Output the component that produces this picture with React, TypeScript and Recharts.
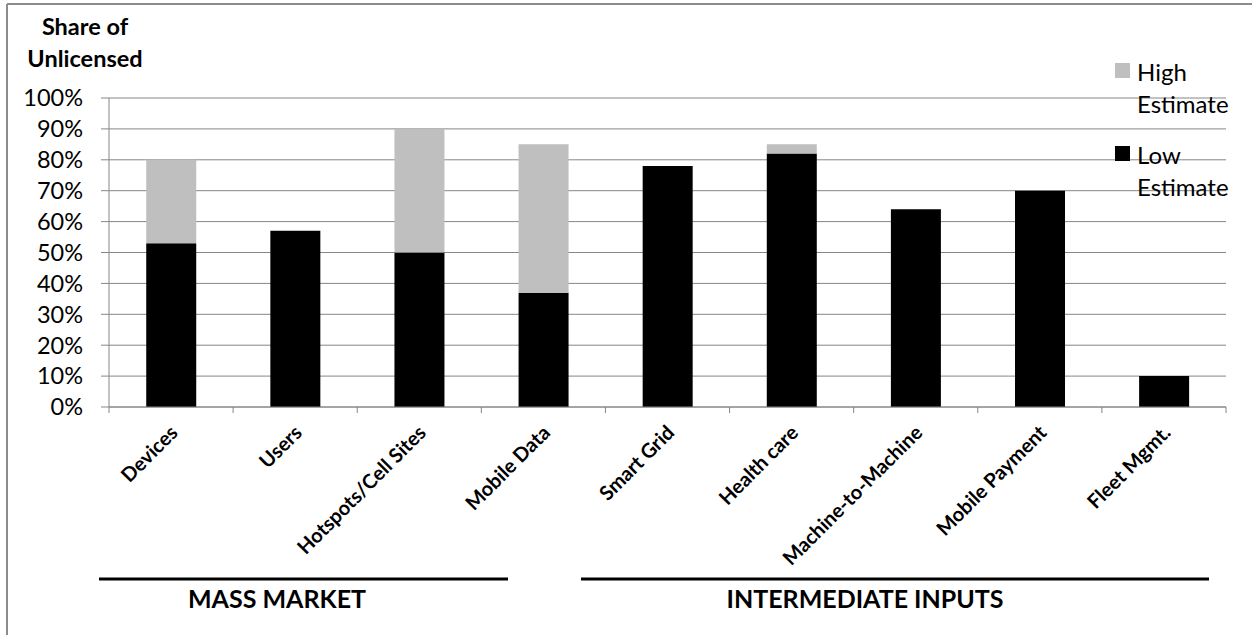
import { BarChart, Bar, XAxis, YAxis, CartesianGrid, Legend } from 'recharts';

const categories = [
  'Devices',
  'Users',
  'Hotspots/Cell Sites',
  'Mobile Data',
  'Smart Grid',
  'Health care',
  'Machine-to-Machine',
  'Mobile Payment',
  'Fleet Mgmt.',
];
// low estimate share (%) per category
const lowEstimate = [53, 57, 50, 37, 78, 82, 64, 70, 10];
// high estimate share (%), null where only one estimate exists
const highEstimate = [80, null, 90, 85, null, 85, null, null, null];
const yTicks = [0, 10, 20, 30, 40, 50, 60, 70, 80, 90, 100];
const groupLabels = ['MASS MARKET', 'INTERMEDIATE INPUTS'];

const data = categories.map((name, i) => ({
  name,
  low: lowEstimate[i],
  high: highEstimate[i] == null ? 0 : (highEstimate[i] as number) - lowEstimate[i],
}));

const FONT = 'Lato, "Open Sans", sans-serif';
const GRID = '#868686';
const W = 1252;
const H = 635;

const CategoryTick = (props: any) => {
  const { x, y, payload, index, visibleTicksCount } = props;
  const half = payload.offset ?? (1226 - 109) / categories.length / 2;
  const last = index === (visibleTicksCount ?? categories.length) - 1;
  return (
    <g>
      <line x1={x - half} x2={x - half} y1={y} y2={y + 6} stroke={GRID} />
      {last && <line x1={x + half} x2={x + half} y1={y} y2={y + 6} stroke={GRID} />}
      <text
        transform={`translate(${x + 8},${y + 27}) rotate(-45)`}
        textAnchor="end"
        fontSize={20}
        fontWeight="bold"
        fontFamily={FONT}
        fill="#000"
      >
        {payload.value}
      </text>
    </g>
  );
};

const LegendBox = () => {
  const items = [
    { color: '#BFBFBF', lines: ['High', 'Estimate'] },
    { color: '#000000', lines: ['Low', 'Estimate'] },
  ];
  return (
    <div style={{ fontFamily: FONT, fontSize: 24, color: '#000' }}>
      {items.map((it, i) => (
        <div key={i} style={{ position: 'relative', height: 83 }}>
          <div style={{ position: 'absolute', left: 0, top: 5, width: 15, height: 15, background: it.color }} />
          <div style={{ position: 'absolute', left: 22, top: -2, lineHeight: '32px' }}>
            {it.lines.map((l) => (
              <div key={l}>{l}</div>
            ))}
          </div>
        </div>
      ))}
    </div>
  );
};

export default function App() {
  return (
    <div style={{ position: 'absolute', left: 0, top: 0, width: W, height: H, background: '#fff', fontFamily: FONT, overflow: 'hidden' }}>
      <BarChart
        width={W}
        height={H}
        data={data}
        margin={{ top: 98, right: 26, left: 0, bottom: 0 }}
        barCategoryGap="30%"
      >
        <CartesianGrid vertical={false} stroke={GRID} />
        <XAxis
          dataKey="name"
          interval={0}
          height={228}
          tickSize={0}
          tickMargin={0}
          tickLine={false}
          axisLine={{ stroke: GRID }}
          tick={<CategoryTick />}
        />
        <YAxis
          width={109}
          domain={[0, 100]}
          ticks={yTicks}
          interval={0}
          tickFormatter={(v) => `${v}%`}
          tickSize={8}
          tickMargin={18}
          axisLine={{ stroke: GRID }}
          tickLine={{ stroke: GRID }}
          tick={{ fill: '#000', fontSize: 23.5, fontFamily: FONT }}
        />
        <Legend
          layout="vertical"
          align="center"
          verticalAlign="middle"
          wrapperStyle={{ position: 'absolute', left: 1115, top: 58, width: 137 }}
          content={<LegendBox />}
        />
        <Bar dataKey="low" stackId="a" fill="#000000" isAnimationActive={false} />
        <Bar dataKey="high" stackId="a" fill="#BFBFBF" isAnimationActive={false} />
      </BarChart>
      <svg width={W} height={H} style={{ position: 'absolute', left: 0, top: 0, pointerEvents: 'none' }}>
        <line x1={7} y1={4} x2={W} y2={4} stroke="#8c8c8c" strokeWidth={2} />
        <line x1={7} y1={4} x2={7} y2={H} stroke="#8c8c8c" strokeWidth={2} />
        <text x={85} y={35} textAnchor="middle" fontSize={23.5} fontWeight="bold" fontFamily={FONT}>Share of</text>
        <text x={85} y={67} textAnchor="middle" fontSize={23.5} fontWeight="bold" fontFamily={FONT}>Unlicensed</text>
        <line x1={99} y1={579} x2={508} y2={579} stroke="#000" strokeWidth={3} />
        <line x1={581} y1={579} x2={1209} y2={579} stroke="#000" strokeWidth={3} />
        <text x={277} y={608} textAnchor="middle" fontSize={25} fontWeight="bold" fontFamily={FONT}>{groupLabels[0]}</text>
        <text x={865} y={608} textAnchor="middle" fontSize={25} fontWeight="bold" fontFamily={FONT}>{groupLabels[1]}</text>
      </svg>
    </div>
  );
}
